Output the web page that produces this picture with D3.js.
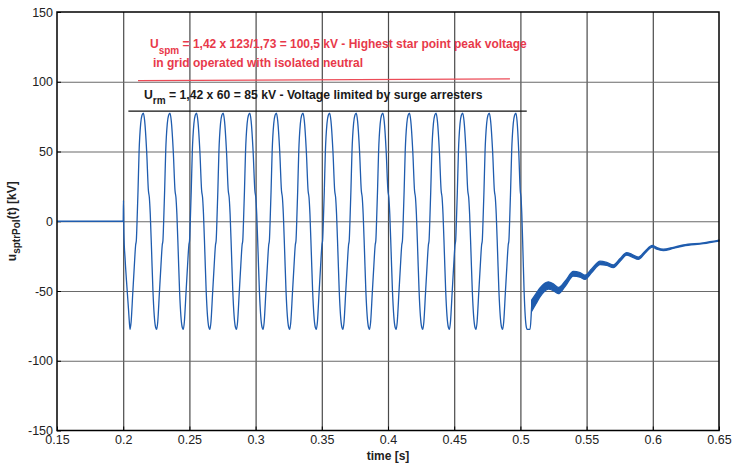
<!DOCTYPE html>
<html>
<head>
<meta charset="utf-8">
<script src="https://cdn.jsdelivr.net/npm/d3@7"></script>
<style>
  body { margin: 0; background: #fff; }
  svg { display: block; font-family: "Liberation Sans", Arial, sans-serif; }
</style>
</head>
<body>
<svg id="chart" width="732" height="464"></svg>
<script>
// axis ticks
const xTicks = [0.15, 0.2, 0.25, 0.3, 0.35, 0.4, 0.45, 0.5, 0.55, 0.6, 0.65];
const xTickLabels = ["0.15", "0.2", "0.25", "0.3", "0.35", "0.4", "0.45", "0.5", "0.55", "0.6", "0.65"];
const yTicks = [-150, -100, -50, 0, 50, 100, 150];
const yTickLabels = ["-150", "-100", "-50", "0", "50", "100", "150"];

// fault onset at t = 0.2 s, up to the first trough
const onsetT = [0.15, 0.2, 0.2002, 0.2005, 0.2015, 0.2028, 0.2040, 0.2047, 0.2052];
const onsetU = [0, 0, 15, -8, -28, -47, -63, -73, -77.5];

// peak / trough instants of the limited oscillation [s]
const peakT = [0.2152, 0.2353, 0.2554, 0.2755, 0.2956, 0.3157, 0.3358, 0.3559,
               0.3760, 0.3961, 0.4162, 0.4363, 0.4564, 0.4765, 0.4966];
const troughT = [0.2052, 0.2253, 0.2454, 0.2655, 0.2856, 0.3057, 0.3258, 0.3459,
                 0.3660, 0.3861, 0.4062, 0.4263, 0.4464, 0.4665, 0.4866, 0.5052];

// shape of one rising edge (trough -> peak) and one falling edge (peak -> trough)
const riseFrac = [0, 0.08, 0.2, 0.32, 0.42, 0.47, 0.52, 0.6, 0.68, 0.8, 0.9, 1];
const riseU    = [-77.5, -72, -52, -32, -17, -14, -2, 22, 50, 70, 76, 77.5];
const fallFrac = [0, 0.1, 0.25, 0.38, 0.45, 0.52, 0.62, 0.72, 0.82, 0.92, 1];
const fallU    = [77.5, 72, 50, 22, 17, 5, -22, -50, -68, -76, -77.5];

// after the arresters stop conducting
const endT = [0.5073, 0.5081, 0.5085];
const endU = [-77.5, -68, -60.5];

// decaying tail, drawn as a band (high frequency ripple)
const tailT  = [0.5085, 0.5118, 0.5148, 0.5211, 0.5249, 0.5286, 0.5337, 0.5400, 0.5450, 0.5488,
                0.5539, 0.5602, 0.5652, 0.5702, 0.5753, 0.5803, 0.5841, 0.5891, 0.5941, 0.5996,
                0.6030, 0.6079, 0.6155, 0.6230, 0.6381, 0.6500];
const tailHi = [-56.5, -51.9, -47.8, -43.4, -44.9, -47.5, -43.0, -36.0, -36.9, -38.7,
                -34.0, -28.6, -29.5, -31.3, -26.7, -22.5, -23.7, -25.7, -21.5, -17.3,
                -18.8, -20.0, -18.7, -17.0, -15.5, -13.6];
const tailLo = [-64.5, -59.1, -54.2, -48.6, -49.7, -51.9, -46.8, -39.4, -40.1, -41.7,
                -36.8, -31.0, -31.7, -33.3, -28.7, -24.3, -25.5, -27.3, -22.9, -18.5,
                -20.0, -21.0, -19.5, -17.8, -16.1, -14.2];

// annotation lines
const redLineT = [0.2112, 0.4921];
const redLineU = [100.8, 102];
const blackLineT = [0.2039, 0.5048];
const blackLineU = [79, 79];

const mLeft = 57, mRight = 719, mTop = 12, mBottom = 430.5;
const blue = "#1f5cae";

const svg = d3.select("#chart");

const x = d3.scaleLinear().domain([0.15, 0.65]).range([mLeft, mRight]);
const y = d3.scaleLinear().domain([-150, 150]).range([mBottom, mTop]);

// grid
svg.append("g")
    .attr("transform", `translate(0,${mBottom})`)
    .call(d3.axisBottom(x).tickValues(xTicks.slice(1, -1)).tickSize(-(mBottom - mTop)).tickFormat(""))
    .call(g => g.select(".domain").remove())
    .call(g => g.selectAll("line").attr("stroke", "#4a4a4a").attr("stroke-width", 1.2));
svg.append("g")
    .attr("transform", `translate(${mLeft},0)`)
    .call(d3.axisLeft(y).tickValues(yTicks.slice(1, -1)).tickSize(-(mRight - mLeft)).tickFormat(""))
    .call(g => g.select(".domain").remove())
    .call(g => g.selectAll("line").attr("stroke", "#6a6a6a").attr("stroke-width", 1.2));

// tick labels
svg.append("g")
    .attr("transform", `translate(0,${mBottom})`)
    .call(d3.axisBottom(x).tickValues(xTicks).tickSize(-4).tickPadding(5)
        .tickFormat((d, i) => xTickLabels[i]))
    .call(g => g.select(".domain").remove())
    .call(g => g.selectAll("line").attr("stroke", "#000"))
    .call(g => g.selectAll("text").attr("font-size", 12.5).attr("fill", "#222")
        .attr("font-family", "Liberation Sans, Arial, sans-serif"));
svg.append("g")
    .attr("transform", `translate(${mLeft},0)`)
    .call(d3.axisLeft(y).tickValues(yTicks).tickSize(-4).tickPadding(4)
        .tickFormat((d, i) => yTickLabels[i]))
    .call(g => g.select(".domain").remove())
    .call(g => g.selectAll("line").attr("stroke", "#000"))
    .call(g => g.selectAll("text").attr("font-size", 12.5).attr("fill", "#222")
        .attr("font-family", "Liberation Sans, Arial, sans-serif"));

// build the waveform from the read shape
const wave = onsetT.map((t, i) => [t, onsetU[i]]);
peakT.forEach((tp, i) => {
    const t0 = troughT[i], t1 = troughT[i + 1];
    riseFrac.forEach((f, j) => { if (j > 0) wave.push([t0 + f * (tp - t0), riseU[j]]); });
    fallFrac.forEach((f, j) => { if (j > 0) wave.push([tp + f * (t1 - tp), fallU[j]]); });
});
endT.forEach((t, i) => wave.push([t, endU[i]]));

const plot = svg.append("g");

plot.append("path")
    .datum(wave)
    .attr("fill", "none")
    .attr("stroke", blue)
    .attr("stroke-width", 1.3)
    .attr("d", d3.line().x(d => x(d[0])).y(d => y(d[1])).curve(d3.curveMonotoneX));

plot.append("path")
    .datum(tailT.map((t, i) => [t, tailHi[i], tailLo[i]]))
    .attr("fill", blue)
    .attr("stroke", blue)
    .attr("stroke-width", 1.3)
    .attr("d", d3.area().x(d => x(d[0])).y0(d => y(d[2])).y1(d => y(d[1])).curve(d3.curveMonotoneX));

// annotation lines
svg.append("line")
    .attr("x1", x(redLineT[0])).attr("x2", x(redLineT[1]))
    .attr("y1", y(redLineU[0])).attr("y2", y(redLineU[1]))
    .attr("stroke", "#ec4b57").attr("stroke-width", 1.3);
svg.append("line")
    .attr("x1", x(blackLineT[0])).attr("x2", x(blackLineT[1]))
    .attr("y1", y(blackLineU[0])).attr("y2", y(blackLineU[1]))
    .attr("stroke", "#111").attr("stroke-width", 1.3);

// annotation texts
const red = "#e8394a";
const t1 = svg.append("text").attr("x", 150).attr("y", 48)
    .attr("font-size", 12).attr("font-weight", "bold").attr("fill", red);
t1.append("tspan").text("U");
t1.append("tspan").attr("font-size", 10).attr("dy", 5.5).text("spm");
t1.append("tspan").attr("dy", -5.5).text(" = 1,42 x 123/1,73 = 100,5 kV - Highest star point peak voltage");

svg.append("text").attr("x", 153).attr("y", 66.5)
    .attr("font-size", 12).attr("font-weight", "bold").attr("fill", red)
    .text("in grid operated with isolated neutral");

const t2 = svg.append("text").attr("x", 144).attr("y", 99)
    .attr("font-size", 12.2).attr("font-weight", "bold").attr("fill", "#1a1a1a");
t2.append("tspan").text("U");
t2.append("tspan").attr("font-size", 10).attr("dy", 5).text("rm");
t2.append("tspan").attr("dy", -5).text(" = 1,42 x 60 = 85 kV - Voltage limited by surge arresters");

// frame
svg.append("rect")
    .attr("x", mLeft).attr("y", mTop)
    .attr("width", mRight - mLeft).attr("height", mBottom - mTop)
    .attr("fill", "none").attr("stroke", "#000").attr("stroke-width", 1.5);

// axis titles
svg.append("text")
    .attr("x", (mLeft + mRight) / 2).attr("y", 460)
    .attr("text-anchor", "middle")
    .attr("font-size", 12).attr("font-weight", "bold").attr("fill", "#222")
    .text("time [s]");

const yl = svg.append("text")
    .attr("transform", `translate(16,${(mTop + mBottom) / 2}) rotate(-90)`)
    .attr("text-anchor", "middle")
    .attr("font-size", 12).attr("font-weight", "bold").attr("fill", "#222");
yl.append("tspan").text("u");
yl.append("tspan").attr("font-size", 10).attr("dy", 4).text("sptrPol");
yl.append("tspan").attr("dy", -4).text("(t) [kV]");
</script>
</body>
</html>
